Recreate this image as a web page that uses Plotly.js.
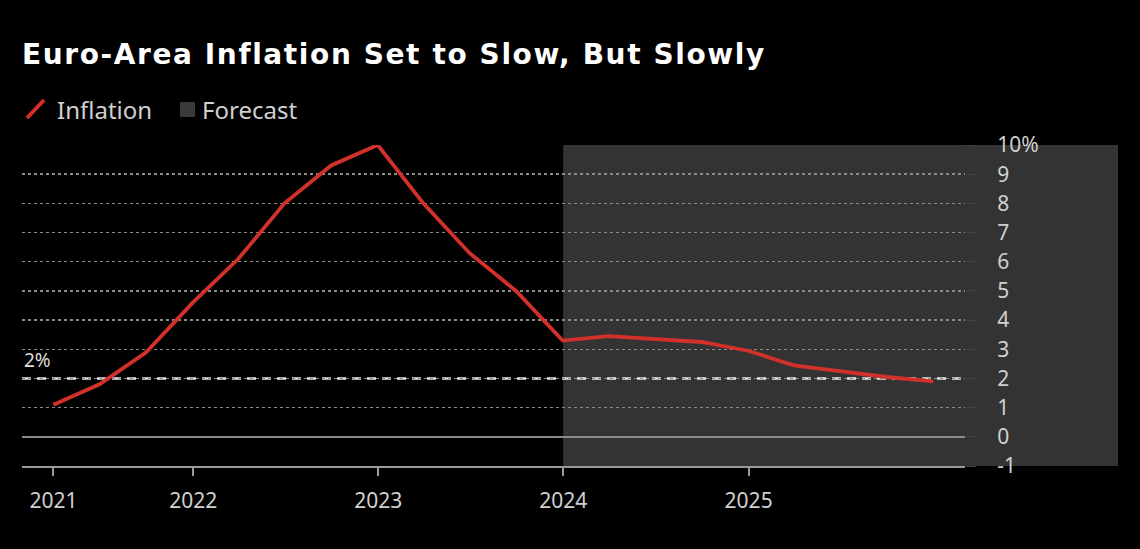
<!DOCTYPE html>
<html>
<head>
<meta charset="utf-8">
<script src="https://cdn.plot.ly/plotly-3.0.1.min.js"></script>
<style>
html,body{margin:0;padding:0;background:#000;}
#chart{width:1140px;height:549px;}
.gtitle{letter-spacing:1.6px;}
</style>
</head>
<body>
<div id="chart"></div>
<script>
// Quarterly data (quarter-end dates)
const quarters = [
  "2021-03-31","2021-06-30","2021-09-30","2021-12-31",
  "2022-03-31","2022-06-30","2022-09-30","2022-12-31",
  "2023-03-31","2023-06-30","2023-09-30","2023-12-31",
  "2024-03-31","2024-06-30","2024-09-30","2024-12-31",
  "2025-03-31","2025-06-30","2025-09-30","2025-12-31"
];
const inflation = [
  1.1, 1.8, 2.9, 4.6,
  6.1, 8.0, 9.3, 10.0,
  8.0, 6.3, 5.0, 3.3,
  3.45, 3.35, 3.25, 2.95,
  2.45, 2.25, 2.05, 1.9
];
const xTickVals = ["2021-03-31","2022-01-01","2023-01-01","2024-01-01","2025-01-01"];
const xTickText = ["2021","2022","2023","2024","2025"];
const yTickVals = [-1,0,1,2,3,4,5,6,7,8,9,10];
const yTickText = ["-1","0","1","2","3","4","5","6","7","8","9","10%"];
const forecastStart = "2024-01-01";
const targetRate = 2;

const W = 1140, H = 549;
const L = 22, R = 965, T = 145, B = 466;
const px = v => (v - L) / (R - L);
const py = v => (B - v) / (B - T);

const trace = {
  x: quarters, y: inflation, type: "scatter", mode: "lines",
  line: {color: "#d2312b", width: 3.8}, hoverinfo: "skip", showlegend: false
};

const layout = {
  width: W, height: H,
  paper_bgcolor: "#000", plot_bgcolor: "#000",
  margin: {l: L, r: W - R, t: T, b: H - B, pad: 0},
  showlegend: false,
  title: {
    text: "Euro-Area Inflation Set to Slow, But Slowly",
    xref: "container", yref: "container",
    x: L / W, xanchor: "left", y: 1 - 54 / H, yanchor: "middle",
    font: {family: "DejaVu Sans", size: 28, color: "#ffffff", weight: "bold"}
  },
  xaxis: {
    type: "date",
    range: ["2021-01-28", "2026-03-04"],
    tickvals: xTickVals, ticktext: xTickText,
    showgrid: false, zeroline: false,
    showline: true, linecolor: "#9a9a9a", linewidth: 2,
    ticks: "outside", ticklen: 8, tickwidth: 2, tickcolor: "#9a9a9a",
    ticklabelstandoff: 7,
    tickfont: {family: "Noto Sans", size: 21, color: "#d0d0d0"},
    fixedrange: true
  },
  yaxis: {
    side: "right",
    range: [-1, 10],
    tickvals: yTickVals, ticktext: yTickText,
    showgrid: true, gridcolor: "#8a8a8a", gridwidth: 1.5, griddash: "dot",
    zeroline: true, zerolinecolor: "#8a8a8a", zerolinewidth: 1.5,
    showline: false,
    ticks: "outside", ticklen: 10, tickcolor: "#444",
    ticklabelstandoff: 17,
    tickfont: {family: "Noto Sans", size: 21, color: "#d0d0d0"},
    fixedrange: true
  },
  shapes: [
    {type: "rect", xref: "x", yref: "paper", x0: forecastStart, x1: "2027-01-01", y0: 0, y1: 1,
     fillcolor: "#333333", line: {width: 0}, layer: "below"},
    {type: "rect", xref: "paper", yref: "paper", x0: 0.999, x1: px(1118), y0: 0, y1: 1,
     fillcolor: "#333333", line: {width: 0}, layer: "below"},
    {type: "line", xref: "paper", yref: "y", x0: 0, x1: 1, y0: targetRate, y1: targetRate,
     line: {color: "#e6e6e6", width: 2.5, dash: "9px,6px"}, layer: "between"},
    // legend icons
    {type: "line", xref: "paper", yref: "paper", x0: px(27), y0: py(118), x1: px(44), y1: py(100),
     line: {color: "#d2312b", width: 4}},
    {type: "rect", xref: "paper", yref: "paper", x0: px(180), x1: px(195), y0: py(117), y1: py(102),
     fillcolor: "#3a3a3a", line: {width: 0}}
  ],
  annotations: [
    {xref: "paper", yref: "y", x: 0, y: targetRate, yshift: 3, xanchor: "left", yanchor: "bottom",
     text: "2%", showarrow: false, font: {family: "Noto Sans", size: 19, color: "#dddddd"}},
    {xref: "paper", yref: "paper", x: px(55), y: py(109), xanchor: "left", yanchor: "middle",
     text: "Inflation", showarrow: false, font: {family: "Noto Sans", size: 24, color: "#d0d0d0"}},
    {xref: "paper", yref: "paper", x: px(200), y: py(109), xanchor: "left", yanchor: "middle",
     text: "Forecast", showarrow: false, font: {family: "Noto Sans", size: 24, color: "#d0d0d0"}}
  ]
};

Plotly.newPlot("chart", [trace], layout, {displayModeBar: false, staticPlot: true});
</script>
</body>
</html>
